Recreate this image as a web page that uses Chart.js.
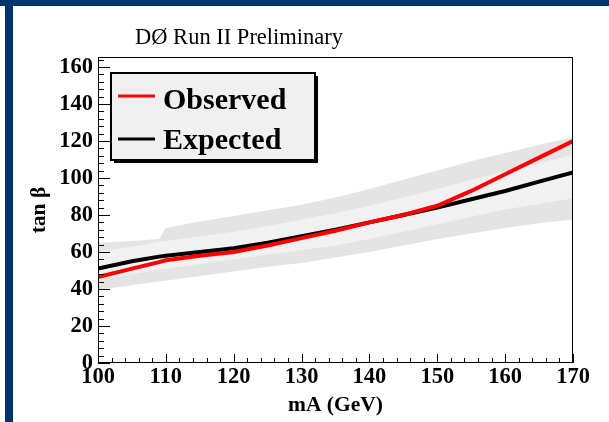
<!DOCTYPE html>
<html>
<head>
<meta charset="utf-8">
<script src="https://cdn.jsdelivr.net/npm/chart.js@4.4.0/dist/chart.umd.min.js"></script>
<style>
  body { margin: 0; background: #fff; }
  canvas { display: block; }
</style>
</head>
<body>
<canvas id="limitChart" width="609" height="422"></canvas>
<script>
// mA points (GeV) and tan beta limits
const massPoints = [100, 105, 109, 110, 115, 120, 125, 130, 135, 140, 145, 150, 155, 160, 165, 170];
const observed   = [46.5, 51, 54.5, 55.5, 58, 60, 63.5, 67.5, 71.5, 76, 80, 85, 93, 102, 111, 120];
const expected   = [51, 55, 57.5, 58, 60, 62, 65, 68.5, 72, 76, 80, 84, 88.5, 93, 98, 103];
const band1Up    = [60, 63, 65.5, 66, 68.5, 71, 74, 77.5, 81, 85, 89.5, 94, 99, 103.5, 108, 112.5];
const band1Down  = [45, 48, 50.5, 51, 53.5, 56, 58.5, 61, 63.5, 67, 71, 75, 79, 83, 86, 89];
const band2Up    = [65, 66, 67, 73, 76.5, 79.5, 82.5, 85.5, 89.5, 94, 99, 104, 109, 113.5, 118, 122];
const band2Down  = [39.5, 42, 44, 44.5, 47, 49.5, 52, 54, 57, 60, 63.5, 67, 70, 73, 75.5, 77.5];

const xTickValues = [100, 110, 120, 130, 140, 150, 160, 170];
const yTickValues = [0, 20, 40, 60, 80, 100, 120, 140, 160];
const xMinorStep = 2;
const yMinorStep = 4;

const serif = '"Liberation Serif", "Times New Roman", serif';
const navy = '#00356b';

function pts(arr) {
    return massPoints.map((m, i) => ({x: m, y: arr[i]}));
}

// page decoration, title, frame with inward ROOT-style ticks, legend
const rootStyle = {
    id: 'rootStyle',
    beforeDraw(chart) {
        const ctx = chart.ctx;
        ctx.save();
        ctx.fillStyle = navy;
        ctx.fillRect(0, 0, 609, 6);
        ctx.fillRect(5, 0, 8, 422);
        ctx.fillRect(0, 0, 13, 6);
        ctx.fillStyle = '#000';
        ctx.font = '22.5px ' + serif;
        ctx.textBaseline = 'alphabetic';
        ctx.fillText('DØ Run II Preliminary', 135, 44);
        ctx.restore();
    },
    afterDatasetsDraw(chart) {
        const {ctx, chartArea: a, scales: {x, y}} = chart;
        ctx.save();
        ctx.strokeStyle = '#000';
        ctx.lineWidth = 1;
        ctx.strokeRect(a.left + 0.5, a.top + 0.5, a.right - a.left - 1, a.bottom - a.top - 1);
        ctx.beginPath();
        for (let v = x.min; v <= x.max + 0.01; v += xMinorStep) {
            const px = Math.round(x.getPixelForValue(v)) + 0.5;
            const len = xTickValues.includes(v) ? 9 : 5;
            ctx.moveTo(px, a.bottom);
            ctx.lineTo(px, a.bottom - len);
        }
        for (let v = 0; v <= y.max; v += yMinorStep) {
            const py = Math.round(y.getPixelForValue(v)) + 0.5;
            const len = yTickValues.includes(v) ? 12 : 6;
            ctx.moveTo(a.left, py);
            ctx.lineTo(a.left + len, py);
        }
        ctx.stroke();

        // legend box with shadow
        const bx = 111, by = 73, bw = 204, bh = 87;
        ctx.fillStyle = '#000';
        ctx.fillRect(bx + 3, by + 3, bw, bh);
        ctx.fillStyle = '#f0f0f0';
        ctx.fillRect(bx, by, bw, bh);
        ctx.lineWidth = 2;
        ctx.strokeRect(bx, by, bw, bh);
        ctx.lineWidth = 3;
        ctx.strokeStyle = '#ff0000';
        ctx.beginPath(); ctx.moveTo(118, 96); ctx.lineTo(155, 96); ctx.stroke();
        ctx.strokeStyle = '#000';
        ctx.beginPath(); ctx.moveTo(118, 139); ctx.lineTo(155, 139); ctx.stroke();
        ctx.fillStyle = '#000';
        ctx.font = 'bold 30px ' + serif;
        ctx.textBaseline = 'alphabetic';
        ctx.fillText('Observed', 163, 109);
        ctx.fillText('Expected', 163, 149);
        ctx.restore();
    }
};

const ctx = document.getElementById('limitChart');

const limitChart = new Chart(ctx, {
    type: 'line',
    data: {
        datasets: [
            {label: 'Observed', data: pts(observed), borderColor: '#ff0000', borderWidth: 4, pointRadius: 0, fill: false, order: 0},
            {label: 'Expected', data: pts(expected), borderColor: '#000000', borderWidth: 4, pointRadius: 0, fill: false, order: 1},
            {label: '1 sigma up', data: pts(band1Up), borderWidth: 0, pointRadius: 0, backgroundColor: '#f1f1f1', fill: '+1', order: 2},
            {label: '1 sigma down', data: pts(band1Down), borderWidth: 0, pointRadius: 0, fill: false, order: 3},
            {label: '2 sigma up', data: pts(band2Up), borderWidth: 0, pointRadius: 0, backgroundColor: '#e4e4e4', fill: '+1', order: 4},
            {label: '2 sigma down', data: pts(band2Down), borderWidth: 0, pointRadius: 0, fill: false, order: 5}
        ]
    },
    options: {
        responsive: false,
        animation: false,
        devicePixelRatio: 1,
        layout: {padding: {top: 57, right: 36, left: 0, bottom: 0}},
        plugins: {
            legend: {display: false},
            tooltip: {enabled: false}
        },
        scales: {
            x: {
                type: 'linear',
                min: 100,
                max: 170,
                afterFit: s => { s.height = 59; },
                afterBuildTicks: s => { s.ticks = xTickValues.map(v => ({value: v})); },
                grid: {display: false, drawTicks: false},
                border: {display: false},
                ticks: {autoSkip: false, maxRotation: 0, padding: 1, color: '#000', font: {family: serif, size: 22.5, weight: 'bold'}},
                title: {display: true, text: 'mA (GeV)', color: '#000', padding: {top: 0, bottom: 4}, font: {family: serif, size: 21.5, weight: 'bold'}}
            },
            y: {
                type: 'linear',
                min: 0,
                max: 165.4,
                afterFit: s => { s.width = 98; },
                afterBuildTicks: s => { s.ticks = yTickValues.map(v => ({value: v})); },
                grid: {display: false, drawTicks: false},
                border: {display: false},
                ticks: {autoSkip: false, padding: 5, color: '#000', font: {family: serif, size: 22.5, weight: 'bold'}},
                title: {display: true, text: 'tan β', color: '#000', padding: {top: 27, bottom: 0}, font: {family: serif, size: 21.5, weight: 'bold'}}
            }
        }
    },
    plugins: [rootStyle]
});
</script>
</body>
</html>
